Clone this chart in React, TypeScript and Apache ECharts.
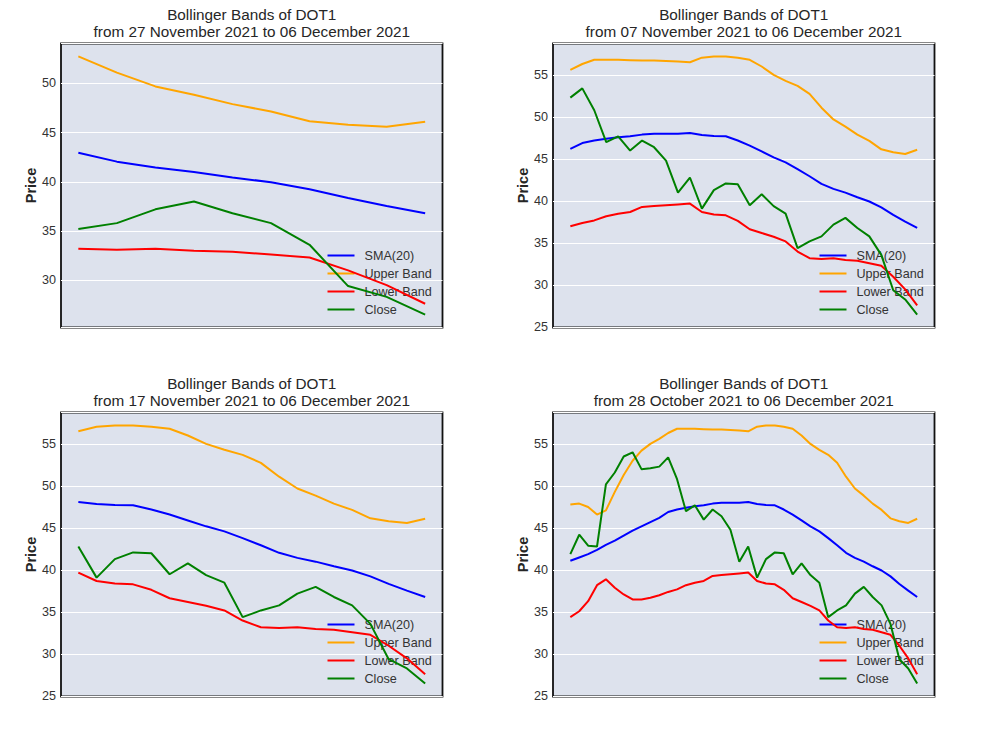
import React, { useEffect, useRef } from "react";
import * as echarts from "echarts";

// Daily values from 28 October 2021 to 06 December 2021 (40 days)
const close = [
  41.9, 44.2, 42.9, 42.8, 50.2, 51.6, 53.5, 54.0, 52.0, 52.1,
  52.3, 53.4, 50.8, 47.0, 47.7, 46.0, 47.2, 46.4, 44.8, 41.0,
  42.8, 39.1, 41.3, 42.1, 42.0, 39.5, 40.8, 39.4, 38.5, 34.4,
  35.2, 35.8, 37.2, 38.0, 36.8, 35.8, 33.6, 29.4, 28.3, 26.5,
];
const sma20 = [
  41.1, 41.5, 41.9, 42.4, 43.0, 43.5, 44.1, 44.7, 45.2, 45.7,
  46.2, 46.9, 47.2, 47.4, 47.6, 47.7, 47.9, 48.0, 48.0, 48.0,
  48.1, 47.85, 47.75, 47.7, 47.2, 46.6, 45.9, 45.2, 44.6, 43.8,
  42.95, 42.05, 41.45, 41.0, 40.45, 39.95, 39.25, 38.35, 37.55, 36.8,
];
const upperBand = [
  47.8, 47.9, 47.5, 46.6, 47.1, 49.3, 51.3, 53.0, 54.2, 55.0,
  55.6, 56.3, 56.8, 56.8, 56.8, 56.75, 56.7, 56.7, 56.65, 56.6,
  56.5, 57.05, 57.2, 57.2, 57.05, 56.8, 56.0, 55.0, 54.3, 53.7,
  52.75, 51.1, 49.7, 48.85, 47.9, 47.15, 46.15, 45.8, 45.6, 46.1,
];
const lowerBand = [
  34.4, 35.1, 36.3, 38.2, 38.9, 37.9, 37.1, 36.5, 36.5, 36.7,
  37.0, 37.4, 37.7, 38.2, 38.5, 38.7, 39.3, 39.4, 39.5, 39.6,
  39.7, 38.7, 38.4, 38.3, 37.65, 36.65, 36.2, 35.75, 35.2, 34.0,
  33.2, 33.1, 33.2, 33.0, 32.9, 32.6, 32.3, 31.0, 29.5, 27.6,
];

// Panels: top-left, top-right, bottom-left, bottom-right
const panelDays = [10, 30, 20, 40];
const panelFrom = ["27 November 2021", "07 November 2021", "17 November 2021", "28 October 2021"];
const panelTo = "06 December 2021";
const ticker = "DOT1";

const seriesNames = ["SMA(20)", "Upper Band", "Lower Band", "Close"];
const seriesColors = ["#0000ff", "#ffa500", "#ff0000", "#008000"];
const seriesData = [sma20, upperBand, lowerBand, close];

const FONT = "'Liberation Sans', Arial, Helvetica, sans-serif";
const gridPos = [
  { left: 61, top: 43.5 },
  { left: 553, top: 43.5 },
  { left: 61, top: 412.5 },
  { left: 553, top: 412.5 },
];
const GW = 381.5;
const GH = 284;

export default function App() {
  const ref = useRef<HTMLDivElement>(null);
  useEffect(() => {
    if (!ref.current) return;
    document.body.style.margin = "0";
    const chart = echarts.init(ref.current, undefined, { renderer: "svg" });

    const grids: any[] = [];
    const xAxes: any[] = [];
    const yAxes: any[] = [];
    const series: any[] = [];
    const legends: any[] = [];
    const titles: any[] = [];

    panelDays.forEach((n, p) => {
      const start = close.length - n;
      const slices = seriesData.map((arr) => arr.slice(start));
      let mn = Infinity;
      let mx = -Infinity;
      slices.forEach((s) => s.forEach((v) => { mn = Math.min(mn, v); mx = Math.max(mx, v); }));
      const pad = (mx - mn) * 0.05;
      const g = gridPos[p];
      grids.push({
        left: g.left, top: g.top, width: GW, height: GH,
        show: true, backgroundColor: "#dde2ed", borderColor: "#111111", borderWidth: 1.8,
        containLabel: false,
      });
      xAxes.push({
        type: "value", gridIndex: p,
        min: -(n - 1) * 0.05, max: (n - 1) * 1.05,
        axisLine: { show: false }, axisTick: { show: false }, axisLabel: { show: false },
        splitLine: { show: false },
      });
      yAxes.push({
        type: "value", gridIndex: p,
        min: mn - pad, max: mx + pad, splitNumber: 6,
        name: "Price", nameLocation: "middle", nameGap: 22,
        nameTextStyle: { fontFamily: FONT, fontSize: 14.5, fontWeight: "bold", color: "#262626" },
        axisLine: { show: false }, axisTick: { show: false },
        axisLabel: {
          fontFamily: FONT, fontSize: 12.6, color: "#333333", margin: 5,
          formatter: (v: number) => (Math.abs(v / 5 - Math.round(v / 5)) < 1e-6 ? String(Math.round(v)) : ""),
        },
        splitLine: { show: true, lineStyle: { color: "#ffffff", width: 1 } },
      });
      slices.forEach((s, k) => {
        series.push({
          type: "line", name: seriesNames[k], xAxisIndex: p, yAxisIndex: p,
          data: s.map((v, i) => [i, v]), symbol: "none", z: 2,
          lineStyle: { color: seriesColors[k], width: 2 }, itemStyle: { color: seriesColors[k] },
        });
      });
      legends.push({
        orient: "vertical", left: g.left + 265.5, top: g.top + 205.5, z: 1,
        itemWidth: 27, itemHeight: 14, itemGap: 5, padding: 0,
        data: seriesNames, selectedMode: false,
        itemStyle: { opacity: 0 },
        lineStyle: { width: 2 },
        textStyle: { fontFamily: FONT, fontSize: 12.6, color: "#333333", padding: [0, 0, 0, 5] },
      });
      titles.push({
        text: `Bollinger Bands of ${ticker}\nfrom ${panelFrom[p]} to ${panelTo}`,
        left: g.left + GW / 2, top: g.top - 37.5, textAlign: "center", padding: 0,
        textStyle: { fontFamily: FONT, fontSize: 15.3, fontWeight: "normal", color: "#262626", lineHeight: 17 },
      });
    });

    chart.setOption({
      animation: false,
      backgroundColor: "#ffffff",
      title: titles,
      grid: grids,
      xAxis: xAxes,
      yAxis: yAxes,
      legend: legends,
      series,
    });
    return () => chart.dispose();
  }, []);
  return <div ref={ref} style={{ position: "absolute", left: 0, top: 0, width: 983, height: 737 }} />;
}
